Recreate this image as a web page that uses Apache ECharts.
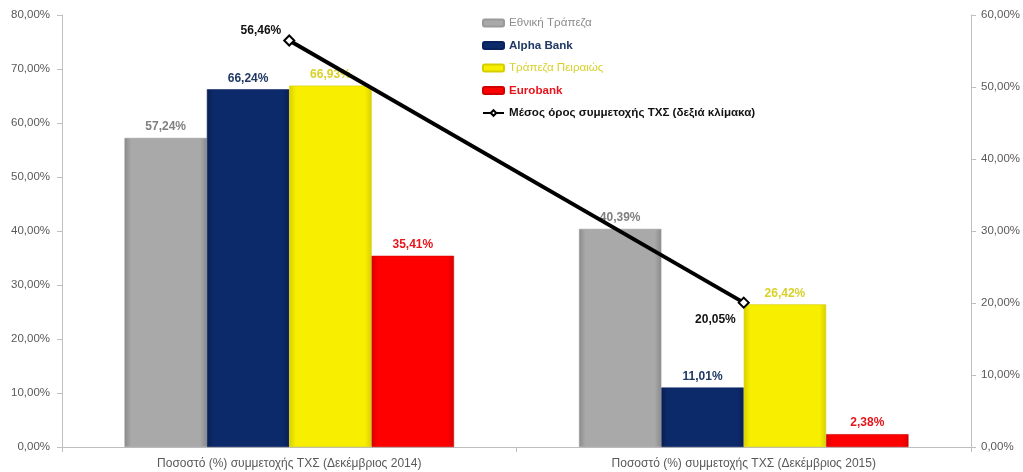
<!DOCTYPE html>
<html><head><meta charset="utf-8">
<script src="https://cdn.jsdelivr.net/npm/echarts@6/dist/echarts.min.js"></script>
<style>html,body{margin:0;padding:0;background:#fff}#c{width:1023px;height:472px}</style>
</head><body><div id="c"></div>
<script>
const categories = ['Ποσοστό (%) συμμετοχής ΤΧΣ (Δεκέμβριος 2014)', 'Ποσοστό (%) συμμετοχής ΤΧΣ (Δεκέμβριος 2015)'];
const seriesNames = ['Εθνική Τράπεζα', 'Alpha Bank', 'Τράπεζα Πειραιώς', 'Eurobank', 'Μέσος όρος συμμετοχής ΤΧΣ (δεξιά κλίμακα)'];
const ethniki = [57.24, 40.39];
const alpha = [66.24, 11.01];
const piraeus = [66.93, 26.42];
const eurobank = [35.41, 2.38];
const average = [56.46, 20.05];
const leftTicks = [0, 80, 10];
const rightTicks = [0, 60, 10];

const FONT = '"Liberation Sans", Arial, sans-serif';
const fmt = v => v.toFixed(2).replace('.', ',') + '%';

function grad(c1, c2, c3) {
  return new echarts.graphic.LinearGradient(0, 0, 1, 0, [
    {offset: 0, color: c1}, {offset: 0.08, color: c2}, {offset: 0.92, color: c2}, {offset: 1, color: c3}
  ]);
}
function bar(name, data, colors, labelColor) {
  return {
    name, type: 'bar', data, barGap: '0%', barCategoryGap: '27.5%',
    itemStyle: {color: grad(colors[0], colors[1], colors[2]), borderColor: colors[3], borderWidth: 0.6},
    label: {show: true, position: 'top', distance: 5, formatter: p => fmt(p.value),
      color: labelColor, fontFamily: FONT, fontSize: 12, fontWeight: 'bold'}
  };
}
const chart = echarts.init(document.getElementById('c'), null, {renderer: 'canvas'});
chart.setOption({
  animation: false,
  backgroundColor: '#fff',
  grid: {left: 62, right: 51, top: 15, bottom: 25, containLabel: false},
  legend: {
    orient: 'vertical', left: 477, top: 12, itemGap: 10.5, itemWidth: 21, itemHeight: 7,
    textStyle: {fontFamily: FONT, fontSize: 11.6, fontWeight: 'bold'},
    data: [
      {name: seriesNames[0], textStyle: {color: '#8c8c8c', fontWeight: 'normal'}},
      {name: seriesNames[1], textStyle: {color: '#1f3864'}},
      {name: seriesNames[2], textStyle: {color: '#d9d12a', fontWeight: 'normal'}},
      {name: seriesNames[3], textStyle: {color: '#e8141b'}},
      {name: seriesNames[4], textStyle: {color: '#111'}}
    ]
  },
  xAxis: {
    type: 'category', data: categories,
    axisLine: {lineStyle: {color: '#bfbfbf'}},
    axisTick: {show: true, length: 5, lineStyle: {color: '#bfbfbf'}},
    axisLabel: {color: '#595959', fontFamily: FONT, fontSize: 12, margin: 11}
  },
  yAxis: [
    {type: 'value', min: leftTicks[0], max: leftTicks[1], interval: leftTicks[2],
      axisLine: {show: true, lineStyle: {color: '#bfbfbf'}},
      axisTick: {show: true, length: 5, lineStyle: {color: '#bfbfbf'}},
      splitLine: {show: false},
      axisLabel: {formatter: fmt, color: '#595959', fontFamily: FONT, fontSize: 11.5, margin: 12}},
    {type: 'value', min: rightTicks[0], max: rightTicks[1], interval: rightTicks[2], position: 'right',
      axisLine: {show: true, lineStyle: {color: '#bfbfbf'}},
      axisTick: {show: true, length: 5, lineStyle: {color: '#bfbfbf'}},
      splitLine: {show: false},
      axisLabel: {formatter: fmt, color: '#595959', fontFamily: FONT, fontSize: 11.5, margin: 10}}
  ],
  series: [
    bar(seriesNames[0], ethniki, ['#8a8a8a', '#a9a9a9', '#8a8a8a', '#9a9a9a'], '#7f7f7f'),
    bar(seriesNames[1], alpha, ['#0a1f52', '#0c2a6a', '#0a1f52', '#0a2160'], '#1f3864'),
    bar(seriesNames[2], piraeus, ['#d8d000', '#f7ee00', '#d8d000', '#d6cf00'], '#d9d12a'),
    bar(seriesNames[3], eurobank, ['#d80000', '#ff0000', '#d80000', '#d00000'], '#e8141b'),
    {
      name: seriesNames[4], type: 'line', yAxisIndex: 1, data: [
        {value: average[0], label: {offset: [3, -10]}},
        {value: average[1], label: {offset: [3, 17]}}
      ],
      lineStyle: {color: '#000', width: 4},
      itemStyle: {color: '#fff', borderColor: '#000', borderWidth: 2},
      symbol: 'diamond', symbolSize: 10, z: 5,
      label: {show: true, position: 'left', formatter: p => fmt(p.value), color: '#111',
        fontFamily: FONT, fontSize: 12, fontWeight: 'bold'}
    }
  ]
});
</script></body></html>
